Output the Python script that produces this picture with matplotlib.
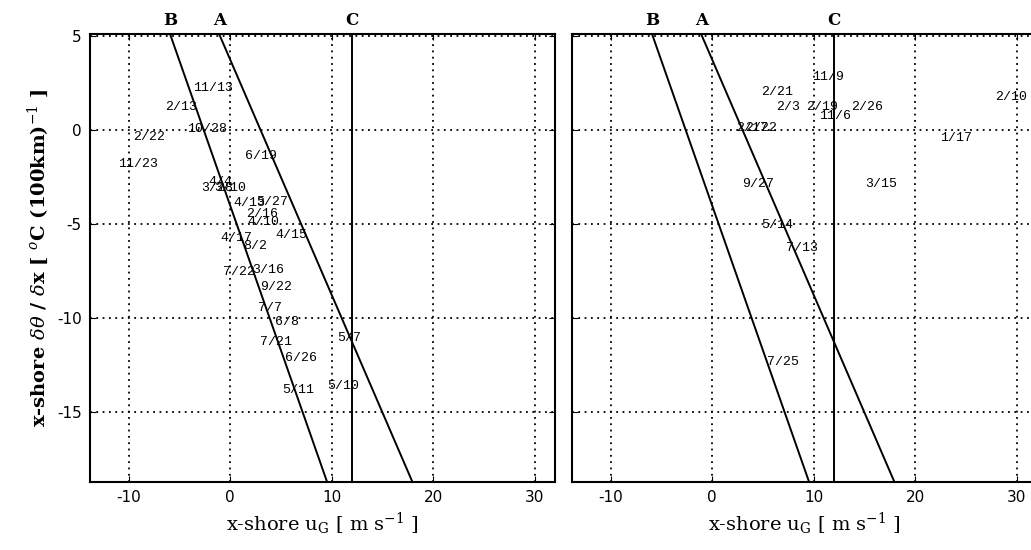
import matplotlib
matplotlib.use("Agg")
import matplotlib.pyplot as plt
import matplotlib.transforms as mtransforms
import numpy as np

# case dates and their (u_G, d theta/dx) positions, panel 1
dates_1 = ['11/13', '2/13', '10/28', '2/22', '11/23', '6/19', '4/4', '3/28', '3/10',
           '4/13', '5/27', '2/16', '4/10', '4/15', '4/17', '8/2', '7/22', '3/16',
           '9/22', '7/7', '6/8', '5/7', '7/21', '6/26', '5/11', '5/10']
ug_1 = [-3.65, -6.40, -4.24, -9.56, -11.03, 1.48, -2.17, -2.86, -1.58,
        0.30, 2.56, 1.58, 1.67, 4.43, -0.99, 1.28, -0.69, 2.17,
        2.96, 2.76, 4.43, 10.54, 2.96, 5.42, 5.12, 9.56]
grad_1 = [2.23, 1.22, 0.05, -0.37, -1.81, -1.38, -2.77, -3.09, -3.09,
          -3.88, -3.83, -4.47, -4.89, -5.59, -5.74, -6.17, -7.55, -7.45,
          -8.35, -9.47, -10.21, -11.06, -11.28, -12.13, -13.83, -13.62]

# panel 2
dates_2 = ['11/9', '2/21', '2/3', '2/19', '2/26', '11/6', '2/17', '2/22', '1/17',
           '2/10', '9/27', '3/15', '5/14', '7/13', '7/25']
ug_2 = [9.80, 4.80, 6.27, 9.31, 13.73, 10.49, 2.35, 3.30, 22.45,
        27.84, 2.94, 15.10, 4.80, 7.25, 5.39]
grad_2 = [2.82, 2.02, 1.22, 1.22, 1.22, 0.74, 0.11, 0.11, -0.43,
          1.76, -2.87, -2.87, -5.05, -6.28, -12.34]

# threshold lines u_G = a + b * grad (A, B) and constant u_G (C)
line_names = ['B', 'A']
line_a = [-2.6, 3.0]
line_b = [-0.65, -0.80]
c_value = 12.0

xlim = (-13.8, 32.0)
ylim = (-18.7, 5.1)
xticks = [-10, 0, 10, 20, 30]
yticks = [-15, -10, -5, 0, 5]

plt.rcParams['mathtext.fontset'] = 'dejavuserif'
plt.rcParams['axes.unicode_minus'] = False

fig = plt.figure(figsize=(10.31, 5.5), dpi=100)
ax1 = fig.add_axes([0.0873, 0.1236, 0.451, 0.8145])
ax2 = fig.add_axes([0.5548, 0.1236, 0.451, 0.8145])

grads = np.linspace(ylim[0], ylim[1], 50)

for ax, dates, ug, grad in [(ax1, dates_1, ug_1, grad_1), (ax2, dates_2, ug_2, grad_2)]:
    ax.set_xlim(xlim)
    ax.set_ylim(ylim)
    ax.set_xticks(xticks)
    ax.set_yticks(yticks)
    ax.grid(True, color='black', linestyle=(0, (1, 2.5)), linewidth=1.3)
    ax.tick_params(direction='in', top=True, right=True, length=4,
                   labelsize=11, pad=6)
    for s in ax.spines.values():
        s.set_linewidth(1.5)

    trans = mtransforms.blended_transform_factory(ax.transData, ax.transAxes)
    for name, a, b in zip(line_names, line_a, line_b):
        ax.plot(a + b * grads, grads, color='black', lw=1.4)
        ax.text(a + b * ylim[1], 1.012, name, transform=trans, ha='center',
                va='bottom', fontsize=12, fontweight='bold', family='DejaVu Serif')
    ax.axvline(c_value, color='black', lw=1.4)
    ax.text(c_value, 1.012, 'C', transform=trans, ha='center', va='bottom',
            fontsize=12, fontweight='bold', family='DejaVu Serif')

    for d, x, y in zip(dates, ug, grad):
        ax.text(x, y, d, ha='left', va='center', fontsize=9.5,
                family='Liberation Mono', clip_on=False)

    ax.set_xlabel(r'x-shore u$_\mathrm{G}$ [ m s$^{-1}$ ]', fontsize=14,
                  family='DejaVu Serif', labelpad=4)

ax2.set_yticklabels([])
ax1.set_ylabel(r'x-shore $\delta\theta$ / $\delta$x [ $^o$C (100km)$^{-1}$ ]',
               fontsize=14, family='DejaVu Serif', fontweight='bold', labelpad=4)

fig.savefig('out.png', dpi=100)
